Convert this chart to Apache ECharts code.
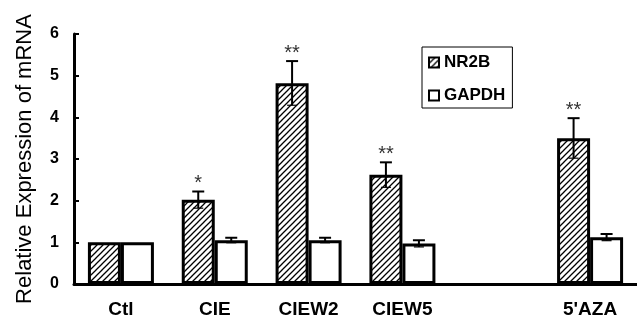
<!DOCTYPE html>
<html><head><meta charset="utf-8">
<script src="https://cdn.jsdelivr.net/npm/echarts@6/dist/echarts.min.js"></script>
<style>html,body{margin:0;padding:0;background:#fff}#c{width:637px;height:322px}</style>
</head><body><div id="c"></div>
<script>
const categories = ['Ctl', 'CIE', 'CIEW2', 'CIEW5', '', "5'AZA"];
const nr2b = [1, 2.02, 4.82, 2.62, null, 3.5];
const nr2bErr = [0, 0.2, 0.53, 0.3, null, 0.48];
const gapdh = [1, 1.05, 1.05, 0.97, null, 1.12];
const gapdhErr = [0, 0.06, 0.06, 0.08, null, 0.08];
const stars = ['', '*', '**', '**', '', '**'];
const yTicks = [0, 1, 2, 3, 4, 5, 6];

const pc = document.createElement('canvas');
pc.width = 6; pc.height = 6;
const g = pc.getContext('2d');
g.fillStyle = '#fff'; g.fillRect(0, 0, 6, 6);
g.strokeStyle = '#000'; g.lineWidth = 1.3;
g.beginPath();
g.moveTo(-1, 7); g.lineTo(7, -1);
g.moveTo(-4, 4); g.lineTo(4, -4);
g.moveTo(2, 10); g.lineTo(10, 2);
g.stroke();

const BW = 33;
const FONT = 'Liberation Sans, Arial';
function errData(vals, errs) {
  const out = [];
  vals.forEach((v, i) => { if (v != null && errs[i] > 0) out.push([i, v, errs[i]]); });
  return out;
}
function errSeries(name, vals, errs, off) {
  return {
    type: 'custom', name: name + 'err', z: 5,
    data: errData(vals, errs),
    renderItem: function (params, api) {
      const i = api.value(0), v = api.value(1), e = api.value(2);
      const top = api.coord([i, v + e]);
      const bot = api.coord([i, v - e]);
      const x = top[0] + off;
      const st = { stroke: '#000', lineWidth: 2 };
      return { type: 'group', children: [
        { type: 'line', shape: { x1: x, y1: top[1], x2: x, y2: bot[1] }, style: st },
        { type: 'line', shape: { x1: x - 6, y1: top[1], x2: x + 6, y2: top[1] }, style: st },
        { type: 'line', shape: { x1: x - 5, y1: bot[1], x2: x + 5, y2: bot[1] }, style: { stroke: '#000', lineWidth: 1.2 } }
      ]};
    }
  };
}
const starData = [];
stars.forEach((s, i) => { if (s) starData.push([i, nr2b[i] + nr2bErr[i], s]); });

const chart = echarts.init(document.getElementById('c'));
chart.setOption({
  animation: false,
  backgroundColor: '#fff',
  grid: { left: 74, right: 0, top: 34, bottom: 38 },
  legend: {
    orient: 'vertical', left: 422, top: 47,
    data: [{ name: 'NR2B', icon: 'rect' }, { name: 'GAPDH', icon: 'rect' }],
    itemWidth: 10, itemHeight: 10, itemGap: 16,
    padding: [7, 7, 4, 6],
    borderColor: '#000', borderWidth: 1,
    textStyle: { fontFamily: FONT, fontWeight: 'bold', fontSize: 17, color: '#000', letterSpacing: -0.8 }
  },
  xAxis: {
    type: 'category', data: categories,
    axisLine: { lineStyle: { color: '#000', width: 3 } },
    axisTick: { inside: true, length: 5, lineStyle: { color: '#000', width: 2 } },
    axisLabel: { margin: 16, color: '#000', fontFamily: FONT, fontWeight: 'bold', fontSize: 19, letterSpacing: -1 }
  },
  yAxis: {
    type: 'value', min: 0, max: 6, interval: 1,
    name: 'Relative Expression of mRNA', nameLocation: 'middle', nameRotate: 90, nameGap: 38,
    nameTextStyle: { fontFamily: FONT, fontSize: 22, color: '#000' },
    axisLine: { show: true, lineStyle: { color: '#000', width: 3 } },
    axisTick: { show: true, inside: true, length: 5, lineStyle: { color: '#000', width: 2 } },
    splitLine: { show: false },
    axisLabel: { margin: 15, color: '#000', fontFamily: FONT, fontWeight: 'bold', fontSize: 16,
      formatter: v => yTicks.includes(v) ? String(v) : '' }
  },
  series: [
    { type: 'bar', name: 'NR2B', data: nr2b, barWidth: BW, barGap: '0%',
      itemStyle: { color: { image: pc, repeat: 'repeat' }, borderColor: '#000', borderWidth: 3 } },
    { type: 'bar', name: 'GAPDH', data: gapdh, barWidth: BW, barGap: '0%',
      itemStyle: { color: '#fff', borderColor: '#000', borderWidth: 3 } },
    errSeries('NR2B', nr2b, nr2bErr, -BW / 2),
    errSeries('GAPDH', gapdh, gapdhErr, BW / 2),
    { type: 'custom', name: 'stars', z: 6, data: starData,
      renderItem: function (params, api) {
        const p = api.coord([api.value(0), api.value(1)]);
        return { type: 'text', x: p[0] - BW / 2, y: p[1] - 8,
          style: { text: stars[api.value(0)], textAlign: 'center', textVerticalAlign: 'middle',
            font: '20px Liberation Sans, Arial', fill: '#333' } };
      } }
  ]
});
</script></body></html>
